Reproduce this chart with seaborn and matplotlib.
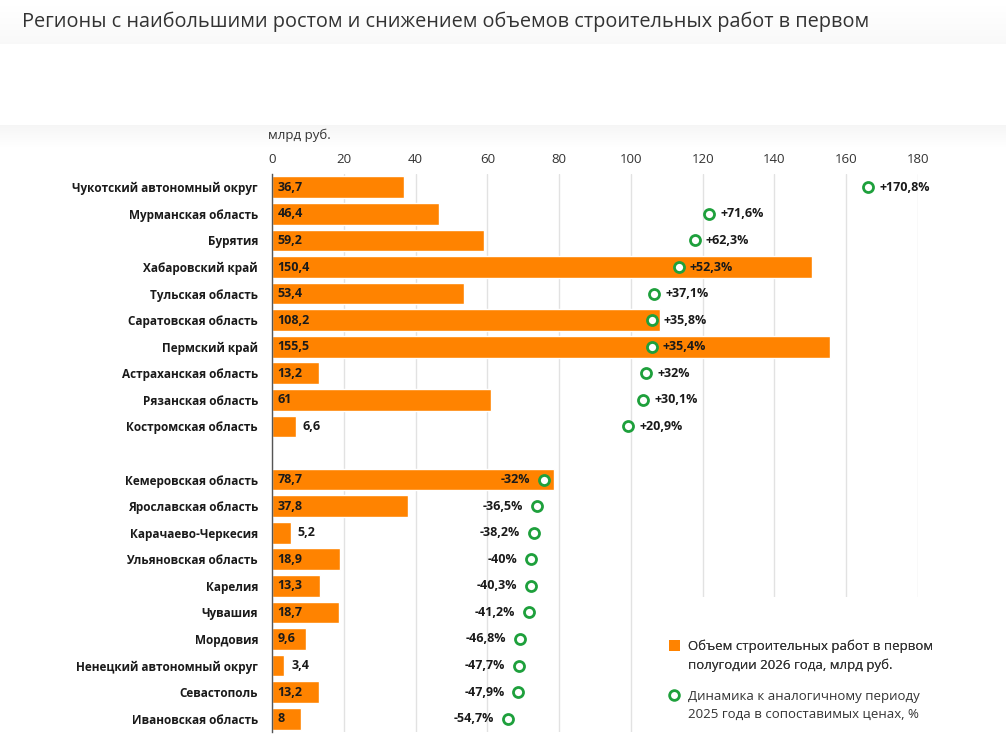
import matplotlib
matplotlib.use('Agg')
import matplotlib.pyplot as plt
import seaborn as sns
import numpy as np
import pandas as pd
from matplotlib.patches import Patch, Rectangle
from matplotlib.lines import Line2D

# regions with the biggest growth
growth_regions = ['Чукотский автономный округ', 'Мурманская область', 'Бурятия', 'Хабаровский край',
                  'Тульская область', 'Саратовская область', 'Пермский край', 'Астраханская область',
                  'Рязанская область', 'Костромская область']
growth_volume = [36.7, 46.4, 59.2, 150.4, 53.4, 108.2, 155.5, 13.2, 61, 6.6]
growth_change = [170.8, 71.6, 62.3, 52.3, 37.1, 35.8, 35.4, 32, 30.1, 20.9]

# regions with the biggest decline
decline_regions = ['Кемеровская область', 'Ярославская область', 'Карачаево-Черкесия', 'Ульяновская область',
                   'Карелия', 'Чувашия', 'Мордовия', 'Ненецкий автономный округ', 'Севастополь',
                   'Ивановская область']
decline_volume = [78.7, 37.8, 5.2, 18.9, 13.3, 18.7, 9.6, 3.4, 13.2, 8]
decline_change = [-32, -36.5, -38.2, -40, -40.3, -41.2, -46.8, -47.7, -47.9, -54.7]

x_ticks = [0, 20, 40, 60, 80, 100, 120, 140, 160, 180]

ORANGE = '#FF8300'
GREEN = '#1EA03C'
TEXT = '#1a1a1a'
W, H = 1006, 741


def fmt_num(v):
    return f'{v:g}'.replace('.', ',')


def fmt_pct(v):
    s = fmt_num(abs(v)) + '%'
    return ('+' if v > 0 else '-') + s


df = pd.DataFrame({
    'region': growth_regions + decline_regions,
    'volume': growth_volume + decline_volume,
    'change': growth_change + decline_change,
})
order = growth_regions + [' '] + decline_regions
df['pos'] = [order.index(r) for r in df['region']]

sns.set_style('white')
plt.rcParams['font.family'] = ['Open Sans', 'DejaVu Sans']

fig = plt.figure(figsize=(W / 100, H / 100), dpi=100)
fig.patch.set_facecolor('white')

# background shading: header strip and shadow above the chart block
shade = np.ones(H)
shade[:44] = np.linspace(1.0, 0.972, 44)
shade[125:150] = np.linspace(0.96, 1.0, 25)
bg = fig.add_axes([0, 0, 1, 1], zorder=-10)
bg.imshow(np.repeat(shade[:, None], 2, axis=1), cmap='gray', vmin=0, vmax=1, aspect='auto',
          extent=(0, 1, 0, 1))
bg.axis('off')

ax = fig.add_axes([272 / W, 1 - 732 / H, 646 / W, 558 / H])
sns.barplot(data=df, x='volume', y='region', order=order, orient='h', color=ORANGE,
            saturation=1, width=0.82, ax=ax, zorder=2)
ax.patch.set_alpha(0)

# change (%) on its own scale
ax2 = ax.twiny()
sns.scatterplot(data=df, x='change', y='pos', ax=ax2, marker='o', s=52, facecolor='white',
                edgecolor=GREEN, linewidth=2, zorder=4)
ax2.set_xlim(-202, 202)
ax2.set_xticks([])
ax2.set_xlabel('')
ax2.set_ylabel('')
for side in ax2.spines:
    ax2.spines[side].set_visible(False)

ax.set_xlim(0, 180)
ax.set_xticks(x_ticks)
ax.xaxis.tick_top()
ax.tick_params(axis='x', length=0, pad=5.5, labelsize=9.5, labelcolor='#333333')
ax.tick_params(axis='y', length=0, pad=10)
for lab in ax.get_yticklabels():
    lab.set_fontweight('bold')
    lab.set_fontsize(8.5)
    lab.set_color(TEXT)
ax.set_xlabel('')
ax.set_ylabel('')
ax.grid(axis='x', color='#e2e2e2', linewidth=1)
ax.set_axisbelow(True)
for side in ['top', 'right', 'bottom']:
    ax.spines[side].set_visible(False)
ax.spines['left'].set_color('#555555')
ax.spines['left'].set_linewidth(1)

# volume labels
for _, row in df.iterrows():
    if row['volume'] >= 7:
        ax.annotate(fmt_num(row['volume']), (0, row['pos']), xytext=(4, 0), textcoords='offset points',
                    ha='left', va='center', fontsize=9, fontweight='bold', color=TEXT, zorder=3)
    else:
        ax.annotate(fmt_num(row['volume']), (row['volume'], row['pos']), xytext=(5, 0),
                    textcoords='offset points', ha='left', va='center', fontsize=9,
                    fontweight='bold', color=TEXT, zorder=3)

# percent labels
for _, row in df.iterrows():
    if row['change'] > 0:
        ax2.annotate(fmt_pct(row['change']), (row['change'], row['pos']), xytext=(8, 0),
                     textcoords='offset points', ha='left', va='center', fontsize=9,
                     fontweight='bold', color=TEXT, zorder=5)
    else:
        ax2.annotate(fmt_pct(row['change']), (row['change'], row['pos']), xytext=(-10, 0),
                     textcoords='offset points', ha='right', va='center', fontsize=9,
                     fontweight='bold', color=TEXT, zorder=5)

ax.set_ylim(len(order) - 0.5, -0.5)
ax2.set_ylim(len(order) - 0.5, -0.5)

fig.text(268 / W, 1 - 135 / H, 'млрд руб.', fontsize=9.5, color='#333333', va='center', ha='left')

# white box behind the legend
ax.add_patch(Rectangle(((636 - 272) / 646, 0), 1.0, (732 - 597) / 558, transform=ax.transAxes,
                       facecolor='white', edgecolor='none', zorder=1, clip_on=False))

# legend: one block per series, second line without a marker
blank = Patch(facecolor='none', edgecolor='none')
leg_kw = dict(loc='upper left', frameon=False, fontsize=9.5, handlelength=0.85, handleheight=0.85,
              handletextpad=0.6, labelspacing=0.42, borderpad=0, labelcolor='#333333')
leg1 = fig.legend([Patch(facecolor=ORANGE, edgecolor='none'), blank],
                  ['Объем строительных работ в первом', 'полугодии 2026 года, млрд руб.'],
                  bbox_to_anchor=(662 / W, 1 - 633 / H), **leg_kw)
fig.add_artist(leg1)
circle = Line2D([], [], linestyle='none', marker='o', markersize=7, markerfacecolor='white',
                markeredgecolor=GREEN, markeredgewidth=2)
fig.legend([circle, blank],
           ['Динамика к аналогичному периоду', '2025 года в сопоставимых ценах, %'],
           bbox_to_anchor=(662 / W, 1 - 683 / H), **leg_kw)

fig.text(22 / W, 1 - 22 / H,
         'Регионы с наибольшими ростом и снижением объемов строительных работ в первом',
         fontsize=14.3, color='#333333', va='center', ha='left')

fig.savefig('out.png', dpi=100, facecolor='white')
